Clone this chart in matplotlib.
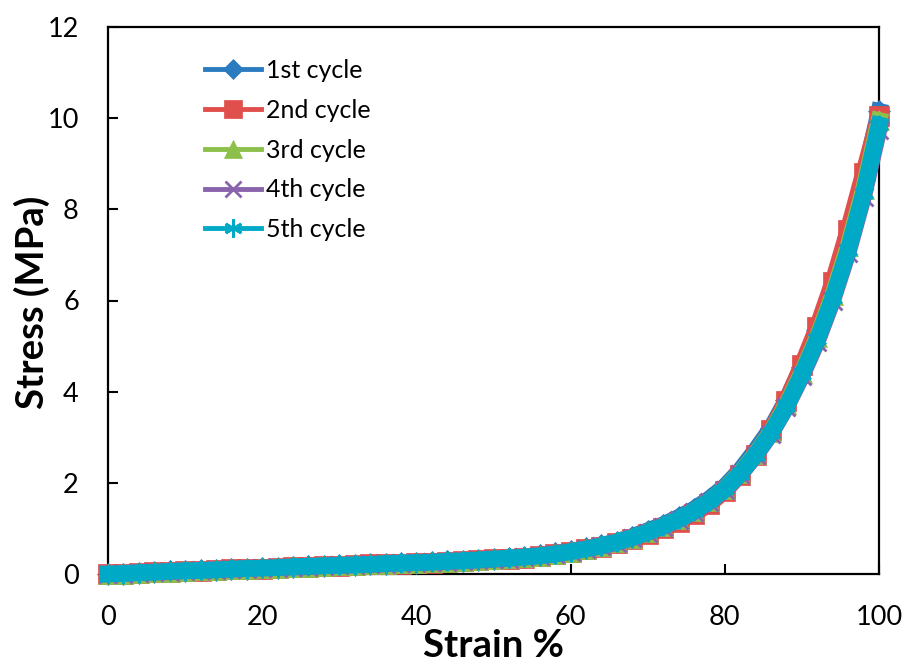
import numpy as np
import matplotlib.pyplot as plt
from matplotlib.lines import Line2D

# =============================================================================
# Datos: esfuerzo-deformación, 5 ciclos
# =============================================================================

strain = np.arange(0, 101, 2)  # %

stress_c1 = [0.00, 0.01, 0.03, 0.04, 0.06, 0.07, 0.08, 0.09, 0.11, 0.12,
             0.13, 0.14, 0.16, 0.17, 0.18, 0.19, 0.20, 0.21, 0.23, 0.24,
             0.25, 0.26, 0.28, 0.29, 0.31, 0.33, 0.35, 0.38, 0.41, 0.45,
             0.50, 0.56, 0.63, 0.71, 0.82, 0.95, 1.08, 1.24, 1.42, 1.65,
             1.92, 2.28, 2.72, 3.20, 3.82, 4.55, 5.35, 6.30, 7.40, 8.65,
             10.15]
stress_c2 = [0.00, 0.01, 0.02, 0.04, 0.05, 0.06, 0.07, 0.09, 0.10, 0.11,
             0.12, 0.14, 0.15, 0.16, 0.17, 0.18, 0.19, 0.21, 0.22, 0.23,
             0.24, 0.25, 0.27, 0.28, 0.30, 0.32, 0.34, 0.36, 0.39, 0.43,
             0.48, 0.54, 0.60, 0.68, 0.77, 0.88, 1.00, 1.15, 1.32, 1.54,
             1.82, 2.18, 2.62, 3.15, 3.80, 4.58, 5.42, 6.40, 7.55, 8.80,
             10.05]
stress_c3 = [0.00, 0.01, 0.03, 0.04, 0.05, 0.07, 0.08, 0.09, 0.10, 0.12,
             0.13, 0.14, 0.15, 0.16, 0.18, 0.19, 0.20, 0.21, 0.22, 0.24,
             0.25, 0.26, 0.27, 0.29, 0.30, 0.32, 0.35, 0.37, 0.40, 0.44,
             0.49, 0.55, 0.62, 0.70, 0.80, 0.92, 1.05, 1.20, 1.38, 1.60,
             1.87, 2.22, 2.64, 3.12, 3.72, 4.42, 5.20, 6.12, 7.20, 8.45,
             9.95]
stress_c4 = [0.00, 0.01, 0.03, 0.04, 0.05, 0.07, 0.08, 0.09, 0.10, 0.12,
             0.13, 0.14, 0.15, 0.16, 0.18, 0.19, 0.20, 0.21, 0.22, 0.24,
             0.25, 0.26, 0.27, 0.29, 0.30, 0.32, 0.34, 0.37, 0.40, 0.44,
             0.49, 0.55, 0.61, 0.69, 0.79, 0.91, 1.04, 1.19, 1.36, 1.58,
             1.85, 2.19, 2.60, 3.08, 3.66, 4.34, 5.10, 6.00, 7.05, 8.28,
             9.75]
stress_c5 = [0.00, 0.01, 0.03, 0.04, 0.06, 0.07, 0.08, 0.09, 0.11, 0.12,
             0.13, 0.14, 0.16, 0.17, 0.18, 0.19, 0.20, 0.21, 0.23, 0.24,
             0.25, 0.26, 0.28, 0.29, 0.31, 0.33, 0.35, 0.37, 0.40, 0.44,
             0.49, 0.55, 0.62, 0.70, 0.80, 0.92, 1.05, 1.20, 1.38, 1.60,
             1.86, 2.20, 2.62, 3.10, 3.68, 4.38, 5.15, 6.05, 7.10, 8.35,
             9.85]

labels = ["1st cycle", "2nd cycle", "3rd cycle", "4th cycle", "5th cycle"]
series = [stress_c1, stress_c2, stress_c3, stress_c4, stress_c5]

colors = ["#2a7bc0", "#e04f4b", "#8dc04b", "#8a63ad", "#00aac6"]
markers = ["D", "s", "^", "x", (6, 2, 0)]
msizes = [10, 13, 13, 12, 13]

x_ticks = [0, 20, 40, 60, 80, 100]
y_ticks = [0, 2, 4, 6, 8, 10, 12]

# =============================================================================
# Gráfica
# =============================================================================

plt.rcParams['font.family'] = ['Lato', 'DejaVu Sans']

fig = plt.figure(figsize=(9.05, 6.62), dpi=100)
ax = fig.add_axes([108/905, 1 - 574/662, 771/905, 547/662])

handles = []
for y, lab, c, m, ms in zip(series, labels, colors, markers, msizes):
    mew = 2 if m in ("x", (6, 2, 0)) else 0.5
    # banda gruesa: los puntos del ensayo se solapan
    ax.plot(strain, y, color=c, linewidth=12, solid_joinstyle='round',
            marker=m, markersize=ms + 1, markeredgewidth=mew,
            markeredgecolor=c, clip_on=False, zorder=3)
    handles.append(Line2D([], [], color=c, linewidth=3.5, marker=m,
                          markersize=ms, markeredgewidth=mew,
                          markeredgecolor=c, label=lab))

ax.set_xlim(0, 100)
ax.set_ylim(0, 12)
ax.set_xticks(x_ticks)
ax.set_yticks(y_ticks)

ax.tick_params(direction='in', length=7, width=1.5, labelsize=19.5)
ax.tick_params(axis='x', pad=22)
ax.tick_params(axis='y', pad=21)
for s in ax.spines.values():
    s.set_linewidth(1.6)

fig.text(493/905, 1 - 646/662, "Strain %", ha='center', va='center',
         fontsize=27.5, fontweight='bold')
fig.text(32/905, 1 - 302/662, "Stress (MPa)", ha='center', va='center',
         rotation=90, fontsize=27.5, fontweight='bold')

fig.legend(handles=handles, loc='upper left',
           bbox_to_anchor=(205/905, 1 - 59/662),
           frameon=False, fontsize=18, handlelength=2.24, handletextpad=0.2,
           labelspacing=0.67, borderpad=0, borderaxespad=0)

fig.savefig("out.png", dpi=100)
